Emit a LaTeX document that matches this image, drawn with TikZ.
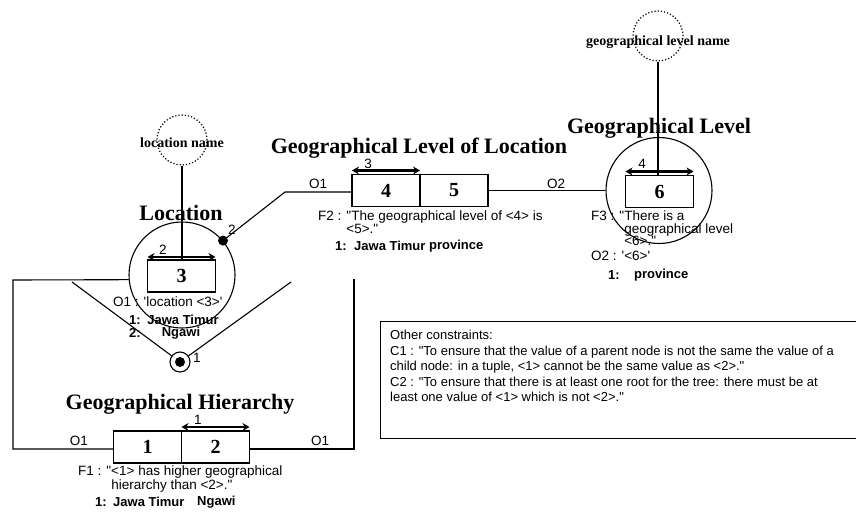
\documentclass[tikz,border=0pt]{standalone}
\usepackage{fontspec}
\setmainfont{Liberation Serif}
\setsansfont{Liberation Sans}
\usetikzlibrary{positioning,arrows.meta}
\newcommand{\dq}{\textquotedbl}
\newcommand{\sq}{\textquotesingle}

\begin{document}
\begin{tikzpicture}[x=1pt,y=-1pt,
  role/.style={draw,line width=1.8pt,outer sep=0pt,minimum width=68pt,minimum height=32pt,inner sep=0pt,font=\fontsize{20}{20}\selectfont\bfseries},
  ent/.style={draw,circle,line width=1.1pt,minimum size=106pt,inner sep=0pt},
  val/.style={draw,circle,dotted,line width=1.2pt,minimum size=50pt,inner sep=0pt},
  ttl/.style={font=\fontsize{22}{22}\selectfont\bfseries,inner sep=0pt},
  vname/.style={font=\fontsize{14}{14}\selectfont\bfseries,inner sep=0pt},
  lab/.style={font=\sffamily\fontsize{13.5}{12.5}\selectfont,inner sep=0pt,align=left},
  pop/.style={font=\sffamily\bfseries\fontsize{13}{12.5}\selectfont,inner sep=0pt},
  uniq/.style={{Stealth[length=7pt,width=8pt]}-{Stealth[length=7pt,width=8pt]},line width=2.4pt},
  con/.style={line width=1.1pt}]
  \useasboundingbox (0,0) rectangle (856,514);
  % Location
  \node[ent] (loc) at (182,275) {};
  \node[role] (b3) at (181.5,276) {3};
  \node[ttl] (tloc) at (181,213) {Location};
  \node[val] (ln) at (182,140) {};
  \node[vname] at (182,143) {location name};
  \node[lab,anchor=west] (o1loc) at (113,302) {O1 : \sq location <3>\sq};
  \node[pop,anchor=west] at (129,320) {1:};
  \node[pop] at (183,320) {Jawa Timur};
  \node[pop,anchor=west] at (129,333) {2:};
  \node[pop] at (181,333) {Ngawi};
  % Geographical Level of Location
  \node[role] (b4) at (386,190.5) {4};
  \node[role,right=0pt of b4] (b5) {5};
  \node[ttl] (tgll) at (419,148) {Geographical Level of Location};
  \node[lab,anchor=north west] (f2) at (318,211) {F2 : \dq The geographical level of <4> is\\\phantom{F2 : }<5>.\dq};
  \node[pop,anchor=west] at (335,246) {1:};
  \node[pop,anchor=west] at (354,246) {Jawa Timur};
  \node[pop,anchor=west] at (429,246) {province};
  % Geographical Level
  \node[ent] (gl) at (659,190.5) {};
  \node[role] (b6) at (659.5,191.5) {6};
  \node[ttl] (tgl) at (659,128) {Geographical Level};
  \node[val] (gln) at (658,36) {};
  \node[vname] at (658,42) {geographical level name};
  \node[lab,anchor=north west] (f3) at (591,211) {F3 : \dq There is a\\\phantom{F3 : \dq}geographical level\\\phantom{F3 : \dq}<6>.\dq\\[2pt]O2 : \sq <6>\sq};
  \node[pop,anchor=west] at (608,275) {1:};
  \node[pop,anchor=west] at (634,275) {province};
  % Geographical Hierarchy
  \node[role] (b1) at (147.5,447) {1};
  \node[role,right=0pt of b1] (b2) {2};
  \node[ttl] (tgh) at (180,404) {Geographical Hierarchy};
  \node[lab,anchor=north west] (f1) at (78,466) {F1 : \dq<1> has higher geographical\\\phantom{F1 : \dq}hierarchy than <2>.\dq};
  \node[pop,anchor=west] at (95,502) {1:};
  \node[pop,anchor=west] at (113,502) {Jawa Timur};
  \node[pop,anchor=west] at (197,502) {Ngawi};
  \node[circle,draw,line width=1.1pt,minimum size=20pt,inner sep=0pt] (ring) at (180,362) {};
  \fill (ring) circle (5pt);
  \node[lab] at (197,358) {1};
  % uniqueness
  \draw[uniq] ([yshift=3pt]b3.north west) -- ([yshift=3pt]b3.north east);
  \node[lab] at (163,250) {2};
  \draw[uniq] ([yshift=4pt]b4.north west) -- ([yshift=4pt]b4.north east);
  \node[lab] at (368,164) {3};
  \draw[uniq] ([yshift=4pt]b6.north west) -- ([yshift=4pt]b6.north east);
  \node[lab] at (642,164) {4};
  \draw[uniq] ([yshift=4pt]b2.north west) -- ([yshift=4pt]b2.north east);
  \node[lab] at (198,420) {1};
  % connectors
  \draw[con] (ln.south) -- (ln.south |- b3.north);
  \draw[con] (gln.south) -- (gln.south |- b6.north);
  \coordinate (k1) at (285,192);
  \fill (loc.40) circle (5pt);
  \draw[con] (loc.40) -- (k1) -- (k1 -| b4.west);
  \node[lab] at (232,230) {2};
  \node[lab] at (318,184) {O1};
  \draw[con] (b5.east) -- (gl.west);
  \node[lab] at (556,184) {O2};
  \coordinate (c1) at (13,280);
  \coordinate (c2) at (13,449);
  \draw[con] (loc.185) -- (c1) -- (c2) -- (c2 -| b1.west);
  \coordinate (c3) at (354,449);
  \coordinate (c4) at (354,279);
  \draw[con] (c3 -| b2.east) -- (c3) -- (c4);
  \node[lab] at (79,441) {O1};
  \node[lab] at (320,441) {O1};
  \coordinate (v1) at (72,282);
  \coordinate (v2) at (291,282);
  \draw[con] (v1) -- (ring);
  \draw[con] (v2) -- (ring);
  % other constraints
  \node[draw,line width=1.1pt,minimum width=480pt,minimum height=117pt,anchor=north west] (oc) at (380,321) {};
  \node[lab,anchor=north west,font=\sffamily\fontsize{13}{15.5}\selectfont] (octx) at (390,330) {Other constraints:\\C1 : \dq To ensure that the value of a parent node is not the same the value of a\\child node: in a tuple, <1> cannot be the same value as <2>.\dq\\C2 : \dq To ensure that there is at least one root for the tree: there must be at\\least one value of <1> which is not <2>.\dq};
\end{tikzpicture}
\end{document}
